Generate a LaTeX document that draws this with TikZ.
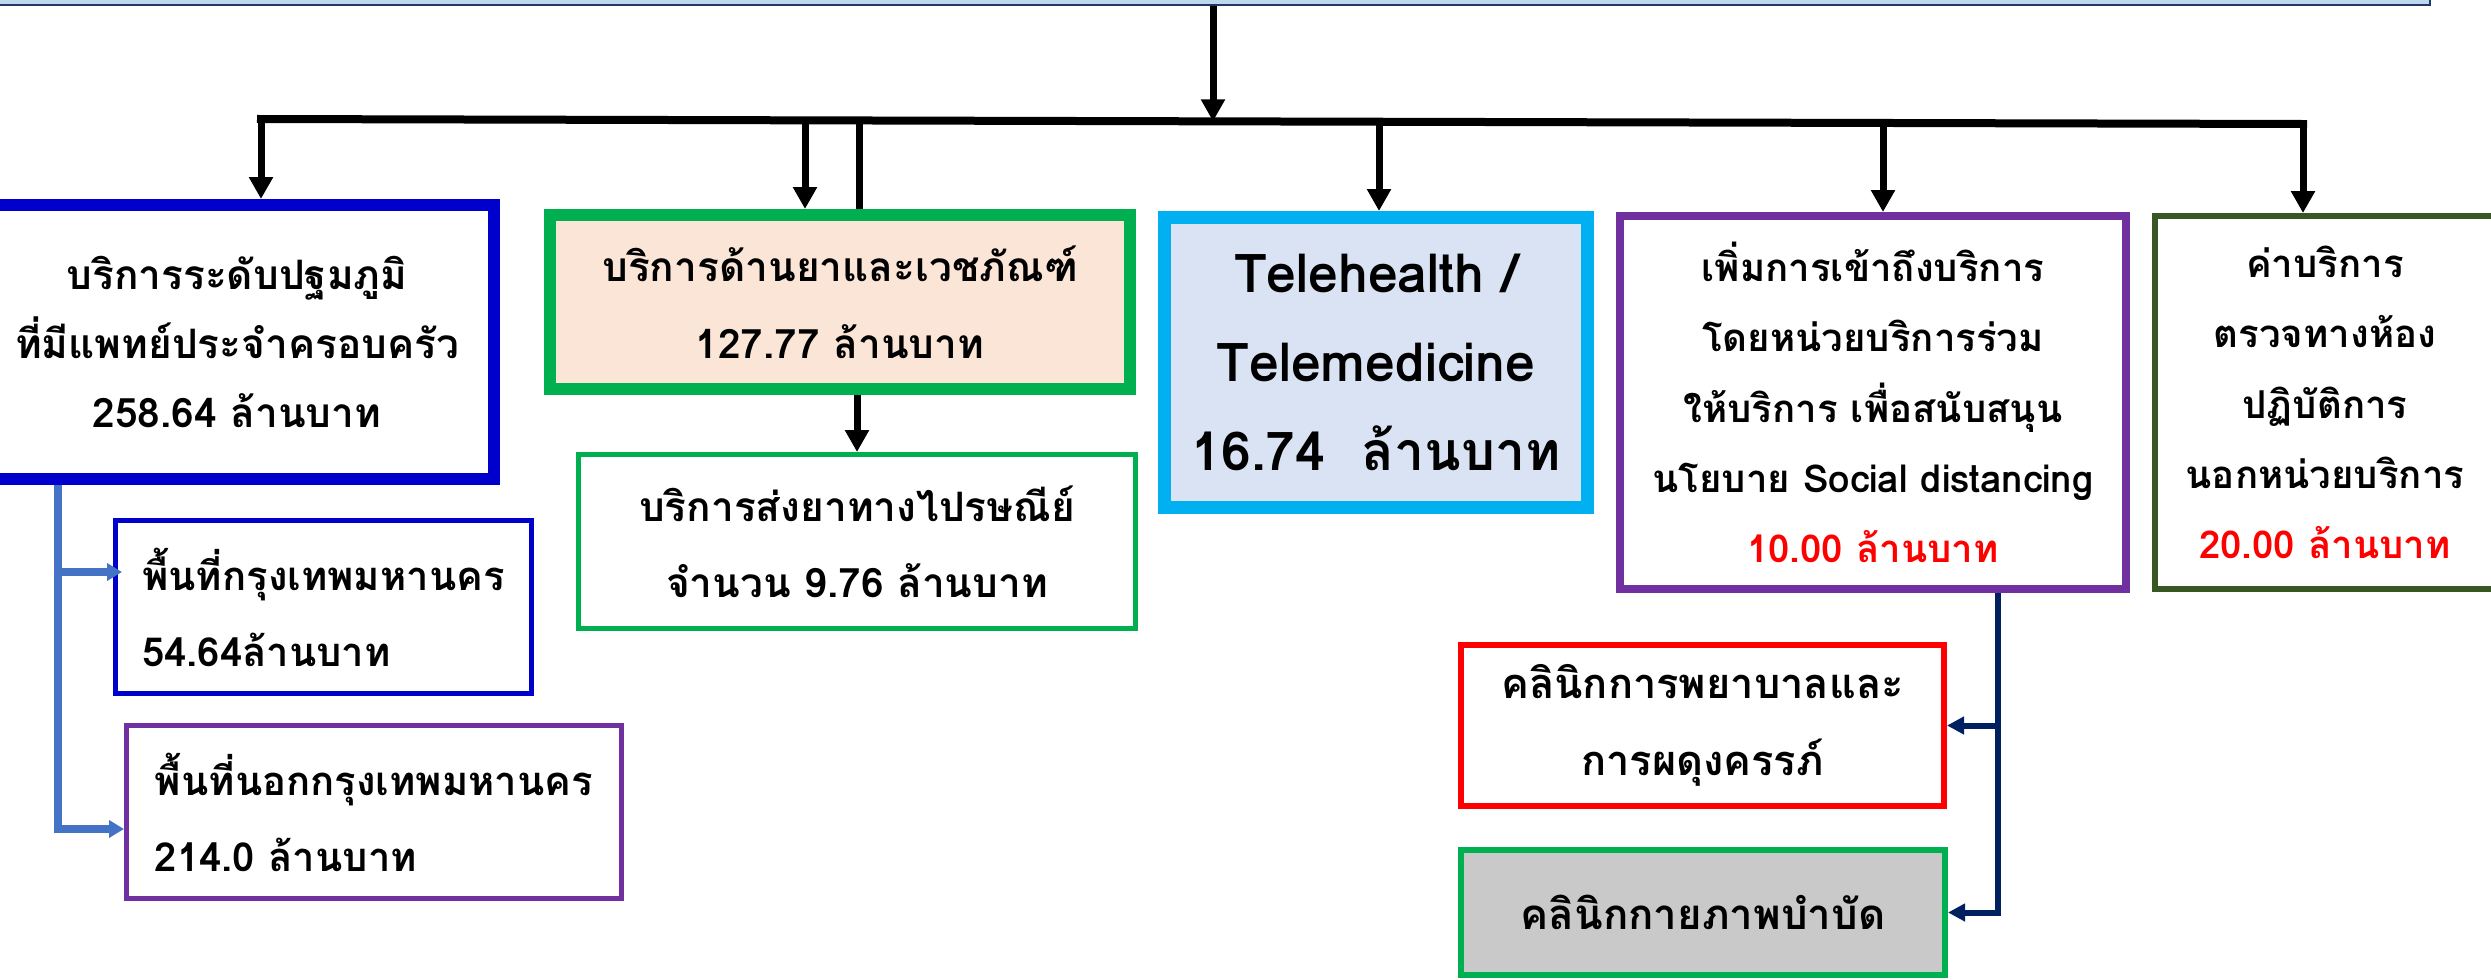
\documentclass[tikz,border=0pt]{standalone}
\usepackage{fontspec}
\setmainfont{Loma}[Script=Thai]
\usetikzlibrary{arrows.meta,calc}
\definecolor{topfill}{HTML}{BDD7EE}
\definecolor{topdraw}{HTML}{1F3864}
\definecolor{bbox}{HTML}{0000CC}
\definecolor{gbox}{HTML}{00B050}
\definecolor{peach}{HTML}{FBE5D6}
\definecolor{cyanb}{HTML}{00B0F0}
\definecolor{telefill}{HTML}{DAE3F3}
\definecolor{purp}{HTML}{7030A0}
\definecolor{dgreen}{HTML}{385723}
\definecolor{redb}{HTML}{FF0000}
\definecolor{greyfill}{HTML}{C9C9C9}
\definecolor{arrblue}{HTML}{4472C4}
\definecolor{navy}{HTML}{002060}
\begin{document}
\begin{tikzpicture}[x=0.5pt,y=-0.5pt,
  box/.style={draw, inner sep=0pt, align=center, text=black},
  blk/.style={draw=black, line width=3.5pt, -{Triangle[width=11.5pt,length=11pt]}},
  blkline/.style={draw=black, line width=3.5pt},
  barr/.style={draw=arrblue, line width=4pt, -{Triangle[width=8.5pt,length=7.5pt]}},
  narr/.style={draw=navy, line width=3pt, -{Triangle[width=8.5pt,length=8.5pt]}}]
\useasboundingbox (0,0) rectangle (2491,980);
% top box (partly off canvas)
\node[draw=topdraw, fill=topfill, line width=1pt, minimum width=1225pt, minimum height=32.5pt, inner sep=0pt] (top) at (1205,-27.5) {};
% level boxes
\node[box, draw=bbox, line width=6pt, minimum width=257pt, minimum height=137pt, font=\fontsize{20.3}{34.5}\selectfont\bfseries] (blue) at (237,342)
  {บริการระดับปฐมภูมิ\\ที่มีแพทย์ประจำครอบครัว\\258.64 ล้านบาท};
\node[box, draw=gbox, fill=peach, line width=6pt, minimum width=290pt, minimum height=87pt, font=\fontsize{20.3}{38.5}\selectfont\bfseries] (green1) at (840,302)
  {บริการด้านยาและเวชภัณฑ์\\127.77 ล้านบาท};
\node[box, draw=gbox, line width=2.5pt, minimum width=278.5pt, minimum height=87pt, font=\fontsize{20.3}{38}\selectfont\bfseries] (green2) at (857,541.5)
  {บริการส่งยาทางไปรษณีย์\\จำนวน 9.76 ล้านบาท};
\node[box, draw=cyanb, fill=telefill, line width=6.5pt, minimum width=211.5pt, minimum height=145pt, font=\fontsize{26.8}{44.5}\selectfont\bfseries] (tele) at (1376,362.5)
  {Telehealth /\\Telemedicine\\16.74\ \ ล้านบาท};
\node[box, draw=purp, line width=4pt, minimum width=253pt, minimum height=186.5pt, font=\fontsize{19.2}{35.2}\selectfont\bfseries] (purple) at (1873,402.5)
  {เพิ่มการเข้าถึงบริการ\\โดยหน่วยบริการร่วม\\ให้บริการ เพื่อสนับสนุน\\นโยบาย Social distancing\\{\color{redb}10.00 ล้านบาท}};
\node[box, draw=dgreen, line width=3pt, minimum width=170pt, minimum height=186.5pt, font=\fontsize{19.2}{35.2}\selectfont\bfseries] (dgbox) at (2325,402.5)
  {ค่าบริการ\\ตรวจทางห้อง\\ปฏิบัติการ\\นอกหน่วยบริการ\\{\color{redb}20.00 ล้านบาท}};
% sub boxes
\node[box, align=left, draw=bbox, line width=2.5pt, minimum width=208pt, minimum height=86.5pt, font=\fontsize{20}{38}\selectfont\bfseries] (box1) at (323.5,607)
  {พื้นที่กรุงเทพมหานคร\\54.64ล้านบาท};
\node[box, align=left, draw=purp, line width=2.5pt, minimum width=247.5pt, minimum height=86.5pt, font=\fontsize{20}{38}\selectfont\bfseries] (box2) at (374,812)
  {พื้นที่นอกกรุงเทพมหานคร\\214.0 ล้านบาท};
\node[box, draw=redb, line width=3pt, minimum width=241.5pt, minimum height=80.5pt, font=\fontsize{20.8}{38.5}\selectfont\bfseries] (red) at (1702.5,725.5)
  {คลินิกการพยาบาลและ\\การผดุงครรภ์};
\node[box, draw=gbox, fill=greyfill, line width=3pt, minimum width=242pt, minimum height=62.5pt, font=\fontsize{21}{38}\selectfont\bfseries] (grey) at (1703,912.5)
  {คลินิกกายภาพบำบัด};
% bar
\coordinate (barL) at (261,119);
\coordinate (barR) at (2303,124);
\coordinate (jt) at (1213,121.3);
\coordinate (ga) at (805,120.3);
\coordinate (gb) at (859,120.5);
\coordinate (ta) at (1379,121.7);
\coordinate (pa) at (1883,123);
\draw[line width=4pt, line cap=rect] (barL) -- (barR);
\draw[blk] (top.south -| jt) -- (jt);
\draw[blk] (barL) -- (barL |- blue.north);
\draw[blk] (ga) -- (ga |- green1.north);
\draw[blkline] (gb) -- (gb |- green1.north);
\draw[blk] (ta) -- (ta |- tele.north);
\draw[blk] (pa) -- (pa |- purple.north);
\draw[blk] (barR) -- (barR |- dgbox.north);
\draw[blk] (green1.south -| green2.north) -- (green2.north);
% blue sub arrows
\coordinate (bs) at (58,0);
\coordinate (y572) at (0,572);
\coordinate (y829) at (0,829);
\draw[barr] (blue.south -| bs) |- (box2.west |- y829);
\draw[barr, shorten >=-4.5pt] (bs |- y572) -- (box1.west |- y572);
% navy sub arrows
\coordinate (ns) at (1998,0);
\draw[narr] (purple.south -| ns) |- (grey.east);
\draw[narr] (ns |- red.east) -- (red.east);
\end{tikzpicture}
\end{document}
